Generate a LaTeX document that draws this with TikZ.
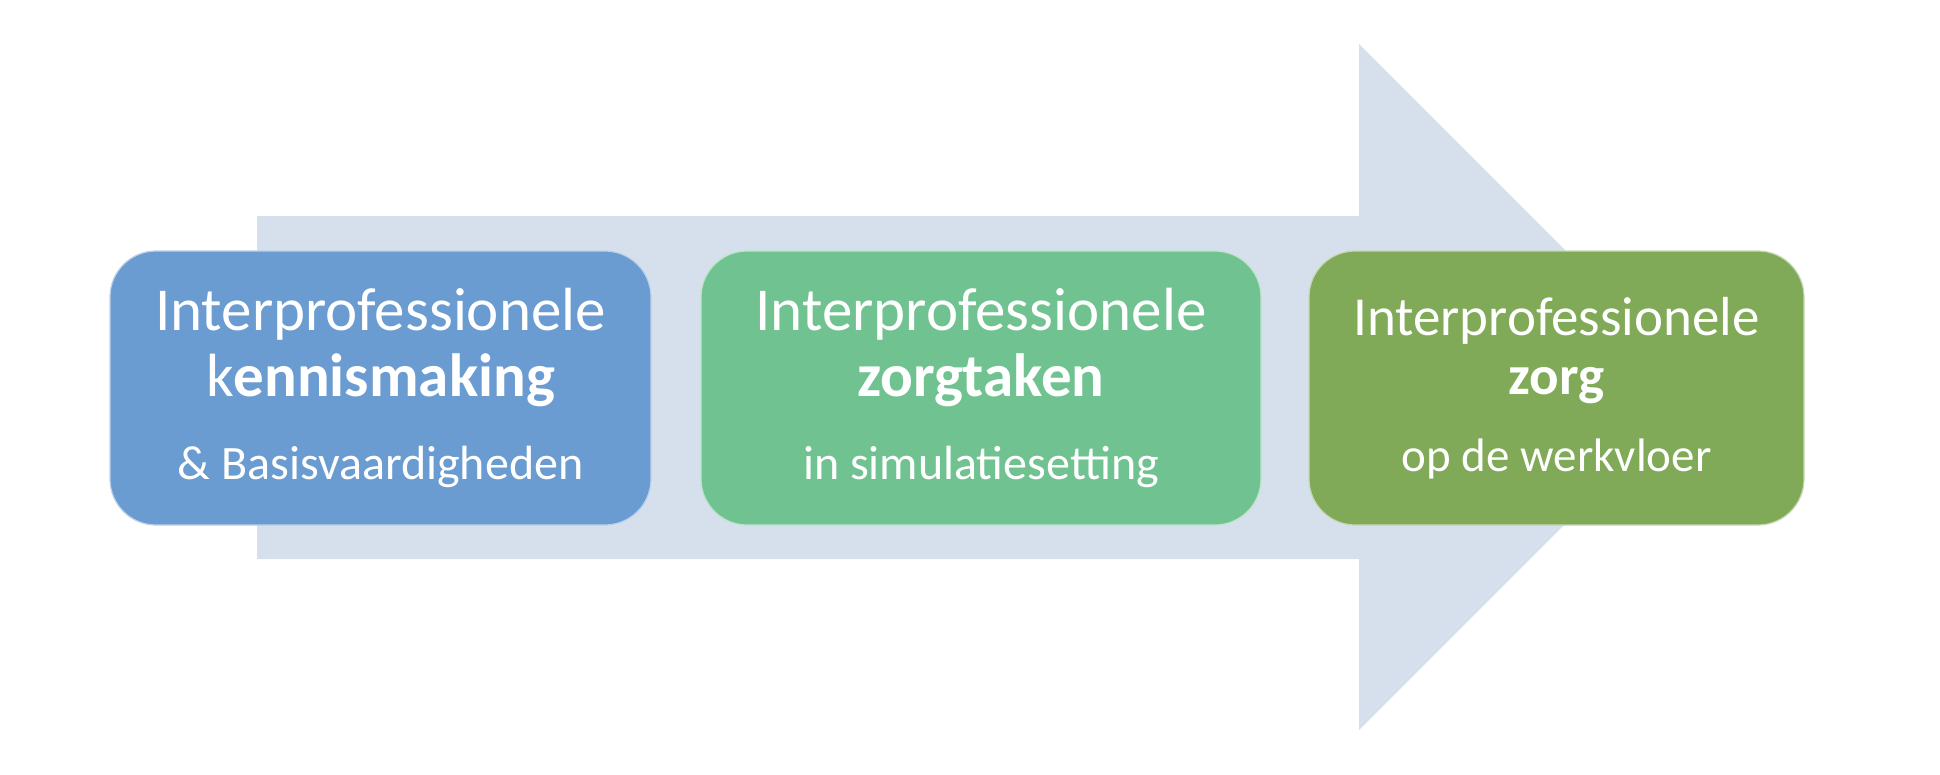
\documentclass[tikz,border=0pt]{standalone}
\usepackage{fontspec}
\setmainfont{Carlito}
\usepackage{xcolor}
\definecolor{pijl}{HTML}{D6DFEC}
\definecolor{blauw}{HTML}{6A9BD1}
\definecolor{groen}{HTML}{70C390}
\definecolor{olijf}{HTML}{80AA58}

\begin{document}
\begin{tikzpicture}[x=1pt,y=-1pt,
  fase/.style={rounded corners=46pt, minimum height=274pt, align=center, text=white,
    fill=#1, draw=white!55!#1, line width=1.2pt, inner sep=0pt,
    font=\fontsize{61}{66}\selectfont}]
  \useasboundingbox (0,0) rectangle (1940,774);
  \fill[pijl] (257,216) -- (1359,216) -- (1359,44) -- (1702,387) -- (1359,730) -- (1359,559) -- (257,559) -- cycle;
  \node[fase=blauw, minimum width=541pt] (kennis) at (380.5,388)
    {Interprofessionele\\k\textbf{ennismaking}\\[17pt]{\fontsize{48}{66}\selectfont\& Basisvaardigheden}};
  \node[fase=groen, minimum width=560pt] (taken) at (981,388)
    {Interprofessionele\\\textbf{zorgtaken}\\[17pt]{\fontsize{48}{66}\selectfont in simulatiesetting}};
  \node[fase=olijf, minimum width=495pt, font=\fontsize{55}{59}\selectfont] (zorg) at (1556.5,388)
    {Interprofessionele\\\textbf{zorg}\\[18pt]{\fontsize{47}{59}\selectfont op de werkvloer}};
\end{tikzpicture}
\end{document}
